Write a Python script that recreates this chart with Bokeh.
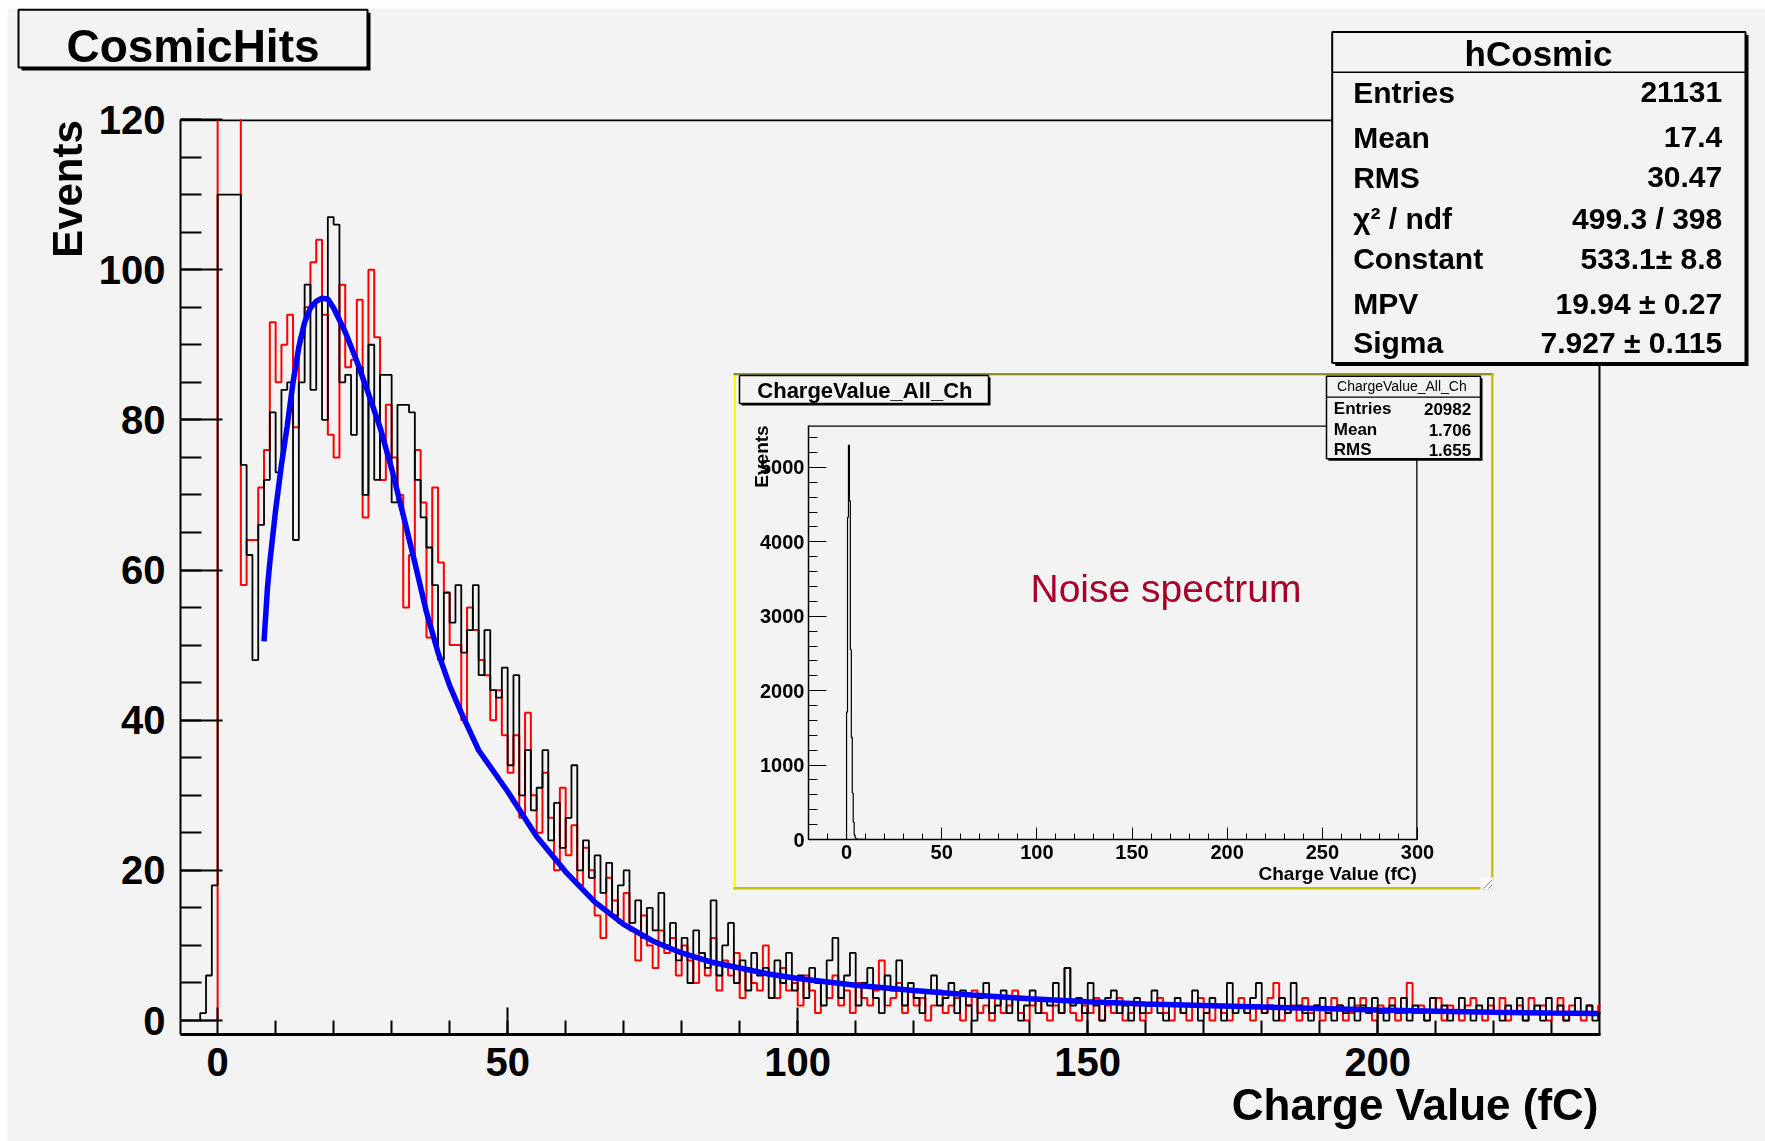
import numpy as np
from bokeh.plotting import figure
from bokeh.models import Range1d, FixedTicker, Span, GlobalInlineStyleSheet
from bokeh.core.properties import value
from bokeh.embed import file_html
from bokeh.resources import INLINE

FONT = "Liberation Sans"
BG = "#f3f3f3"

# ---------------- data ----------------
# main histogram: 1 fC bins, first bin starts at -3 fC
first_edge = -3.0
bin_width = 1.0
black_counts = [
    1, 6, 18,
    110, 110, 110, 110,
    74, 62, 48, 66, 72, 81, 73, 84, 85, 64,
    85, 98, 84, 96, 80, 107, 106, 85, 86, 78,
    87, 70, 90, 72, 86, 86, 69, 82, 82, 81,
    72, 67, 63, 58, 48, 57, 53, 58, 49, 52,
    58, 46, 52, 44, 43, 47,
    34, 46, 30, 36, 28, 31, 36, 24, 29, 23,
    27, 34, 20, 24, 19, 22, 17, 21, 14, 18,
    20, 13, 16, 11, 15, 12, 17, 10, 13, 8,
    11, 5, 12, 9, 7, 16, 6, 10, 13, 5,
    8, 4, 9, 6, 7, 3, 8, 5, 9, 4,
    6, 3, 7, 5, 2, 8, 11, 3, 6, 9,
    2, 5, 7, 3, 1, 6, 4, 8, 2, 5,
    3, 1, 4, 6, 2, 3, 5, 1, 4, 2,
    0, 3, 5, 1, 2, 4, 1, 3, 0, 2,
    4, 1, 3, 2, 5, 1, 7, 2, 3, 1,
    5, 2, 0, 3, 4, 1, 2, 0, 3, 1,
    2, 4, 1, 0, 2, 3, 1, 2, 4, 0,
    1, 3, 2, 0, 5, 1, 2, 1, 3, 5,
    1, 2, 0, 3, 1, 5, 2, 1, 0, 2,
    3, 1, 0, 2, 1, 3, 0, 2, 1, 3,
    1, 0, 2, 1, 3, 0, 2, 1, 0, 3,
    1, 2, 0, 1, 3, 1, 0, 2, 1, 3,
    1, 0, 2, 1, 3, 0, 1, 2, 0, 3,
    1, 2, 0, 1, 3, 1, 2, 0, 1,
]
red_counts = [
    0, 0, 0,
    125, 125, 125, 125,
    58, 64, 64, 71, 76, 93, 85, 90, 94, 79,
    91, 95, 101, 104, 94, 78, 75, 98, 87, 88,
    96, 67, 100, 91, 72, 82, 75, 70, 55, 62,
    76, 69, 51, 71, 61, 57, 50, 50, 40, 55,
    52, 48, 46, 40, 44, 38,
    33, 38, 27, 41, 30, 25, 33, 27, 20, 31,
    22, 26, 18, 23, 20, 14, 11, 19, 16, 13,
    17, 12, 8, 14, 10, 7, 12, 9, 11, 6,
    10, 8, 5, 9, 6, 11, 4, 8, 6, 9,
    3, 7, 5, 4, 10, 6, 3, 7, 4, 5,
    2, 6, 4, 1, 5, 3, 6, 2, 4, 1,
    5, 3, 2, 4, 8, 2, 3, 5, 1, 4,
    2, 3, 0, 2, 4, 1, 2, 3, 0, 2,
    4, 1, 2, 0, 3, 1, 2, 4, 1, 0,
    2, 3, 1, 0, 2, 1, 7, 1, 0, 2,
    1, 3, 0, 2, 1, 3, 0, 1, 2, 0,
    1, 2, 3, 1, 0, 2, 1, 0, 2, 3,
    1, 0, 2, 1, 0, 2, 3, 1, 0, 2,
    1, 3, 5, 0, 1, 2, 0, 3, 1, 2,
    0, 1, 3, 2, 0, 1, 2, 3, 1, 0,
    2, 1, 3, 0, 1, 5, 1, 2, 0, 1,
    3, 0, 2, 1, 0, 2, 3, 1, 0, 2,
    1, 3, 0, 1, 2, 0, 3, 1, 2, 0,
    1, 3, 0, 2, 1, 0, 2, 1, 2,
]
# Landau fit curve
fit_x = [8, 8.6, 9, 10, 11, 12, 13, 14, 15, 16, 17, 18, 19, 20, 21, 22, 24, 26, 28, 30,
         32, 34, 36, 38, 40, 42, 45, 50, 55, 60, 65, 70, 75, 80, 85, 90, 95, 100, 110,
         120, 130, 140, 150, 160, 170, 180, 190, 200, 210, 220, 230, 238]
fit_y = [50.5, 57.7, 61, 68, 74, 79.2, 85, 89.7, 93, 94.9, 95.8, 96.2, 96.1, 94.9, 93.3,
         91.7, 87.8, 83.5, 79, 73.5, 67.3, 61, 54.4, 49, 44.6, 41, 36, 30.5, 24.5, 19.8,
         15.8, 12.8, 10.6, 9.0, 7.8, 7.0, 6.2, 5.6, 4.7, 4.0, 3.4, 2.9, 2.5, 2.2, 2.0,
         1.8, 1.6, 1.4, 1.25, 1.1, 1.0, 0.95]
x_ticks = [0, 50, 100, 150, 200]
x_minor_ticks = list(range(10, 240, 10))
y_ticks = [0, 20, 40, 60, 80, 100, 120]
y_minor_ticks = list(range(0, 121, 5))
stats_labels = ["Entries", "Mean", "RMS", "\u03c7\u00b2 / ndf", "Constant", "MPV", "Sigma"]
stats_values = ["21131", "17.4", "30.47", "499.3 / 398", "533.1\u00b1 8.8",
                "19.94 \u00b1 0.27", "7.927 \u00b1 0.115"]

# inset (noise spectrum): 0.5 fC bins from 0
inset_first_edge = 0.0
inset_bin_width = 0.5
inset_counts = [1713, 4330, 5300, 4550, 2550, 1370, 625, 232, 60, 20,
                10, 6, 3, 2, 1, 2, 1, 0, 1, 0]
inset_x_ticks = [0, 50, 100, 150, 200, 250, 300]
inset_x_minor = list(range(-10, 300, 10))
inset_y_ticks = [0, 1000, 2000, 3000, 4000, 5000]
inset_y_minor = list(range(0, 5600, 200))
inset_stats_labels = ["Entries", "Mean", "RMS"]
inset_stats_values = ["20982", "1.706", "1.655"]


def outline(edge0, width, counts):
    edges = edge0 + width * np.arange(len(counts) + 1)
    xs, ys = [edges[0]], [0.0]
    for i, c in enumerate(counts):
        xs += [edges[i], edges[i + 1]]
        ys += [c, c]
    xs.append(edges[-1])
    ys.append(0.0)
    return xs, ys


def style_axis(ax, ticks, minor, tin, tmin, lw, tlw, size, standoff):
    ax.ticker = FixedTicker(ticks=ticks, minor_ticks=minor)
    ax.major_tick_in, ax.major_tick_out = tin, 0
    ax.minor_tick_in, ax.minor_tick_out = tmin, 0
    ax.major_tick_line_width = tlw
    ax.minor_tick_line_width = tlw
    ax.major_tick_line_color = "black"
    ax.minor_tick_line_color = "black"
    ax.axis_line_width = lw
    ax.axis_line_color = "black"
    ax.major_label_text_font = FONT
    ax.major_label_text_font_style = "bold"
    ax.major_label_text_font_size = f"{size}px"
    ax.major_label_text_color = "black"
    ax.major_label_standoff = standoff


# ---------------- main plot (page coordinates = canvas coordinates) ----------------
W, H = 1765, 1141
FL, FT, FW, FH = 180, 119, 1420, 915
x_start, x_end = -6.4, 238.4
y_start, y_end = -1.86, 120.0

p = figure(width=W, height=H, output_backend="svg", toolbar_location=None,
           x_range=Range1d(x_start, x_end), y_range=Range1d(y_start, y_end),
           min_border_left=FL, min_border_right=W - FL - FW,
           min_border_top=FT, min_border_bottom=H - FT - FH,
           background_fill_color=BG, border_fill_color=BG, outline_line_color=None)
p.grid.visible = False
p.stylesheets = [GlobalInlineStyleSheet(css="html, body { margin: 0; padding: 0; overflow: hidden; }")]

style_axis(p.xaxis[0], x_ticks, x_minor_ticks, 27, 14, 3, 2, 40, 13)
style_axis(p.yaxis[0], y_ticks, y_minor_ticks, 42, 21, 2, 2, 40, 15)

# frame top / right edges (half of the width falls inside the frame)
p.add_layout(Span(location=y_end, dimension="width", line_color="black", line_width=3.5, level="underlay"))
p.add_layout(Span(location=x_end, dimension="height", line_color="black", line_width=4, level="underlay"))

rx, ry = outline(first_edge, bin_width, red_counts)
p.line(rx, ry, line_color="#ff0000", line_width=2)
bx, by = outline(first_edge, bin_width, black_counts)
p.line(bx, by, line_color="black", line_width=1.8)
p.line(fit_x, fit_y, line_color="#0000ff", line_width=5.5)

# ---------------- inset ----------------
IX, IY = 733, 373          # page position of the inset pad
IW, IH = 760, 516
IL, IT, IFW, IFH = 75, 52, 609, 414
ix_start, ix_end = -20.0, 300.0
iy_start, iy_end = 0.0, 5564.0
q = figure(width=IW, height=IH, output_backend="svg", toolbar_location=None,
           x_range=Range1d(ix_start, ix_end), y_range=Range1d(iy_start, iy_end),
           min_border_left=IL, min_border_right=IW - IL - IFW,
           min_border_top=IT, min_border_bottom=IH - IT - IFH,
           background_fill_color=BG, border_fill_color=BG, outline_line_color=None)
q.styles = {"position": "fixed", "left": f"{IX}px", "top": f"{IY}px", "z-index": "10"}
q.grid.visible = False

style_axis(q.xaxis[0], inset_x_ticks, inset_x_minor, 12, 6, 1.5, 1, 20, 5)
style_axis(q.yaxis[0], inset_y_ticks, inset_y_minor, 18, 9, 1.5, 1, 20, 4)

q.add_layout(Span(location=iy_end, dimension="width", line_color="black", line_width=2.6, level="underlay"))
q.add_layout(Span(location=ix_end, dimension="height", line_color="black", line_width=2.6, level="underlay"))

nx, ny = outline(inset_first_edge, inset_bin_width, inset_counts)
q.line(nx, ny, line_color="black", line_width=1.2)

# ---------------- overlay (pads, title boxes, stat boxes, titles) ----------------
o = figure(width=W, height=H, output_backend="svg", toolbar_location=None,
           x_range=Range1d(0, W), y_range=Range1d(H, 0),
           x_axis_location=None, y_axis_location=None,
           min_border_left=0, min_border_right=0, min_border_top=0, min_border_bottom=0,
           background_fill_alpha=0, border_fill_alpha=0, outline_line_color=None)
o.grid.visible = False
o.styles = {"position": "fixed", "left": "0px", "top": "0px", "z-index": "20",
            "pointer-events": "none"}


def rect(l, r, t, b, fill=BG, line="black", lw=2.0):
    o.quad(left=[l], right=[r], top=[t], bottom=[b], fill_color=fill, fill_alpha=1.0,
           line_color=line, line_width=lw)


def txt(x, y, s, size, align="left", bold=True, angle=0.0, color="black"):
    o.text(x=[x], y=[y], text=[s], text_font=value(FONT), text_font_size=value(f"{size}px"),
           text_font_style=value("bold" if bold else "normal"), text_align=value(align),
           text_baseline=value("middle"), angle=angle, text_color=color)


# white page edge (top and left)
rect(0, W, 0, 8, fill="white", line=None)
rect(0, 7, 0, H, fill="white", line=None)
# main title box
rect(21, 370, 12.3, 70, fill="black", line=None)
rect(18, 367, 9.3, 67)
txt(192.5, 45, "CosmicHits", 46, "center")
# main axis titles
txt(67, 188.5, "Events", 42, "center", angle=np.pi / 2)
txt(1598, 1104, "Charge Value (fC)", 44, "right")
# main stats box
rect(1334.7, 1748, 34.5, 365.5, fill="black", line=None)
rect(1331.7, 1745, 31.5, 362.5)
rect(1331.7, 1745, 71, 72.5, fill="black", line=None)
txt(1538, 53.3, "hCosmic", 35, "center")
row_y = [91.7, 136.7, 176.7, 218, 258, 303, 341.7]
for yy, t, v in zip(row_y, stats_labels, stats_values):
    txt(1352.7, yy, t, 30, "left")
    txt(1721.7, yy, v, 30, "right")

# inset pad border (bevelled yellow) and resize handle
rect(IX, IX + 2.5, IY, IY + IH, fill="#ffff00", line=None)
rect(IX, IX + IW, IY, IY + 2.5, fill="#e8e800", line=None)
rect(IX, IX + IW, IY, IY + 1, fill="#333333", line=None)
rect(IX + IW - 2.5, IX + IW, IY, IY + IH, fill="#c4c400", line=None)
rect(IX, IX + IW, IY + IH - 2.5, IY + IH, fill="#c4c400", line=None)
rect(IX + IW - 13, IX + IW, IY + IH - 12, IY + IH, fill="white", line=None)
o.segment(x0=[IX + IW - 10, IX + IW - 5], y0=[IY + IH - 1, IY + IH - 1],
          x1=[IX + IW - 1, IX + IW - 1], y1=[IY + IH - 10, IY + IH - 5],
          line_color="#888888", line_width=1)
# inset title box
rect(IX + 8, IX + 257, IY + 4, IY + 32, fill="black", line=None)
rect(IX + 6, IX + 255, IY + 2, IY + 30, lw=1.5)
txt(IX + 131.4, IY + 17, "ChargeValue_All_Ch", 22, "center")
# inset stats box
rect(IX + 595, IX + 749, IY + 4.7, IY + 87.3, fill="black", line=None)
rect(IX + 593, IX + 747, IY + 2.7, IY + 85.3, lw=1.5)
rect(IX + 593, IX + 747, IY + 23, IY + 24.2, fill="black", line=None)
txt(IX + 668.4, IY + 12.5, "ChargeValue_All_Ch", 14, "center", bold=False)
for yy, t, v in zip([35.3, 56.3, 76.3], inset_stats_labels, inset_stats_values):
    txt(IX + 600.3, IY + yy, t, 17, "left")
    txt(IX + 737.7, IY + yy, v, 17, "right")
# inset axis titles and note
txt(IX + 28, IY + 83, "Events", 19, "center", angle=np.pi / 2)
txt(IX + 683.4, IY + 500, "Charge Value (fC)", 19, "right")
txt(IX + 297, IY + 215, "Noise spectrum", 39, "left", bold=False, color="#a8002a")

open("out.html", "w").write(file_html([p, q, o], INLINE))
